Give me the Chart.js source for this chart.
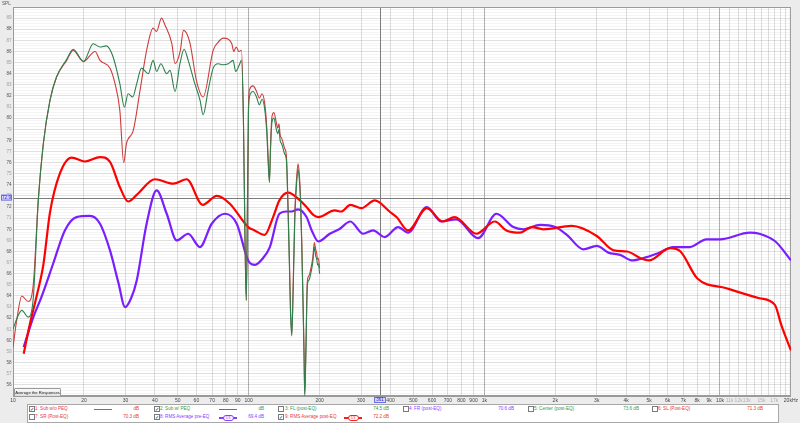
<!DOCTYPE html>
<html><head><meta charset="utf-8">
<script src="https://cdn.jsdelivr.net/npm/chart.js@4"></script>
<style>
html,body{margin:0;padding:0;background:#ececec;width:800px;height:423px;overflow:hidden;font-family:"Liberation Sans",Arial,sans-serif;}
#wrap{position:relative;width:800px;height:423px;}
#c{position:absolute;left:0;top:0;}
.t{position:absolute;font-size:4.6px;line-height:6px;white-space:nowrap;}
.cb{position:absolute;width:4px;height:4px;border:1px solid #7a7a7a;background:#fff;font-size:5px;line-height:4px;text-align:center;color:#111;}
.ln{position:absolute;height:1px;}
.ov{position:absolute;height:4px;border-radius:3px;background:#fff;font-size:3.4px;line-height:4px;text-align:center;}
#panel{position:absolute;left:27px;top:404px;width:750px;height:17px;background:#fff;border:1px solid #a8a8a8;}
#btn{position:absolute;left:14px;top:388px;width:45px;height:7px;border:1px solid #9a9a9a;border-radius:1px;background:linear-gradient(#fbfbfb,#dedede);font-size:4.2px;line-height:7px;text-align:center;color:#222;}
</style>
</head><body>
<div id="wrap">
<canvas id="c" width="800" height="423"></canvas>
<div id="panel"></div>
<div id="btn">Average the Responses</div>
</div>
<script>
// ---------- data ----------
const subNoPeqHz = [10,10.4,10.9,11.6,12.2,12.8,13.45,14.35,15.3,16.9,18.0,19.9,22.3,23.4,25.8,27.1,28.4,29.5,30.3,32.4,34.6,36.9,39.3,40.6,42.7,44.1,47.2,48.7,51.2,52.9,56.3,60.0,64.1,70.7,74.0,78.0,82.0,84.8,86.5,88.5,91.0,93.2,95.0,96.5,97.7,98.8,99.8,101,104.4,108,111,114,117,119.5,121,122.5,124,125.5,128,131,133,134.5,136,138,139.5,142,144.6,147,149,150.5,152.4,154.5,157,160,162,164,166,168,170,171.8,173,174.8,177.5,180,182,185,187,190,192.5,194.6,196,197.6,200];
const subNoPeqDb = [59.4,62.0,64.0,63.5,65.1,72.6,77.7,81.6,83.7,85.2,86.1,85.1,86.0,85.2,84.5,83.1,80.7,76.0,77.7,78.9,82.5,86.1,88.1,87.8,89.0,88.4,86.7,84.9,86.0,87.9,86.8,83.4,81.9,86.1,86.8,87.2,87.1,86.7,86.0,86.4,86.0,86.1,80.0,69.0,63.6,72.0,81.0,82.6,82.9,82.4,81.8,82.2,81.3,79.0,76.5,74.4,78.0,80.1,80.5,79.6,79.1,79.5,78.5,78.2,77.9,77.3,76.6,72.0,67.0,63.0,60.6,65.0,71.5,74.8,75.9,75.0,72.9,69.0,64.0,59.0,55.2,59.0,65.4,65.8,66.1,66.8,67.4,68.8,68.2,67.8,67.3,67.4,66.5];

const subPeqHz = [10,10.4,10.9,11.6,12.2,12.8,13.45,14.35,15.3,16.9,18.0,19.9,21.9,23.4,24.9,26.6,28.4,29.7,30.8,32.2,33.5,35.1,37.5,39.3,40.7,42.4,44.9,46.4,48.7,51.1,53.2,55.4,59.1,62.2,64.1,67.3,70.7,74.2,78.0,82.0,85.9,88.1,91.7,93.2,95.0,96.5,97.7,98.8,99.8,101,104.4,108,111,114,117,119.5,121,122.5,124,125.5,128,131,133,134.5,136,138,139.5,142,144.6,147,149,150.5,152.4,154.5,157,160,162,164,166,168,170,171.8,173,174.8,177.5,180,182,185,187,190,192.5,194.6,196,197.6,200];
const subPeqDb = [61.0,62.0,62.7,62.1,63.9,72.6,77.7,81.6,83.7,85.3,86.2,85.1,86.7,86.4,86.5,85.5,83.1,81.0,82.2,81.9,83.1,84.5,84.0,85.2,84.2,84.9,84.0,84.3,82.4,84.9,86.2,85.2,83.1,81.6,80.3,82.5,84.5,84.9,84.8,84.9,85.2,84.2,84.9,85.2,80.0,69.0,63.6,72.0,80.5,82.0,82.4,81.9,81.2,81.7,80.8,78.5,76.0,74.2,77.5,79.6,80.0,79.0,78.6,79.0,78.0,77.7,77.4,76.8,76.2,71.5,66.5,62.5,60.4,64.5,71.0,74.3,75.4,74.5,72.5,68.5,63.5,58.5,55.0,58.5,65.0,65.4,65.7,66.4,67.0,68.4,67.6,67.3,66.8,66.9,66.0];

const rmsPreHz = [11.1,12.2,13.2,14.8,16.6,18.6,21.2,23.4,25.8,28.0,29.9,31.7,33.5,36.9,40.7,44.9,49.5,55.4,62.1,69.7,79.4,89,99.5,106.5,115,123,135,144.6,152,162,176,186,197.6,221,242,270,306,337,378,431,475,570,657,760,941,1126,1327,1464,1726,2000,2240,2630,3000,3360,3770,4220,4730,5390,6340,7450,8760,10000,13400,14700,17200,20000];
const rmsPreDb = [59.4,62.1,63.9,66.9,69.9,71.1,71.2,70.5,68.1,65.2,63.0,63.8,65.4,70.5,73.5,71.4,69.0,69.6,68.4,70.5,71.4,70.5,67.2,66.8,67.4,68.4,71.4,71.6,71.6,71.8,71.1,69.8,68.9,69.6,70.0,70.7,69.6,69.9,69.3,70.2,69.7,72.0,70.7,70.9,69.2,71.4,70.2,70.0,70.4,70.2,69.5,68.2,68.5,67.9,67.7,67.2,67.4,67.8,68.4,68.4,69.1,69.1,69.7,69.6,68.9,67.2];

const rmsPostHz = [11.1,11.8,12.6,13.45,14.35,15.8,17.75,20.2,23.4,25.8,28.4,30.8,33.5,40,47.9,54.6,63.8,73.3,83.2,99.5,106,117,127,135,147,165,176,188,197.6,232,247,270,301,343,396,424,475,570,667,748,926,1108,1240,1418,1590,1780,2350,3000,3540,4040,4600,4990,6150,6800,8000,10650,14700,17100,18200,20000];
const rmsPostDb = [58.8,61.5,64.0,66.8,71.5,75.0,76.45,76.1,76.5,76.07,73.8,72.5,73.1,74.5,74.1,74.5,72.2,73.0,72.3,70.2,69.9,69.5,71.1,72.6,73.3,72.6,72.0,71.3,71.1,71.7,71.6,72.2,71.9,72.6,71.6,71.1,69.9,71.9,70.7,71.1,69.6,70.7,69.9,69.7,70.2,70.0,70.3,69.4,68.1,68.0,67.4,67.2,68.3,68.0,65.6,64.7,63.8,63.2,61.4,59.1];

const xTickHz = [10,20,30,40,50,60,70,80,90,100,200,300,400,500,600,700,800,900,1000,2000,3000,4000,5000,6000,7000,8000,9000,10000,11000,12000,13000,14000,15000,16000,17000,18000,19000,20000];
const xTickText = ['10','20','30','40','50','60','70','80','90','100','200','300','400','500','600','700','800','900','1k','2k','3k','4k','5k','6k','7k','8k','9k','10k','11k','12k','13k','','15k','','17k','','','20kHz'];
const yMin = 55, yMax = 90;
const cursorHz = 361, cursorDb = 72.85;
const cursorHzText = '361', cursorDbText = '72.9';

// ---------- legend (text from the reference) ----------
const legendNames = ['1: Sub w/o PEQ','2: Sub w/ PEQ','3: FL (post-EQ)','4: FR (post-EQ)','5: Center (post-EQ)','6: SL (Post-EQ)','7: SR (Post-EQ)','8: RMS Average pre-EQ','9: RMS Average post-EQ'];
const legendValues = ['dB','dB','74.5 dB','70.6 dB','73.6 dB','71.3 dB','70.3 dB','69.4 dB','72.2 dB'];
const legendChecked = [true,true,false,false,false,false,false,true,true];
const RED='#e43a3a', GREEN='#2e9a52', PURPLE='#8a3cff';
const legendColors = [RED,GREEN,GREEN,PURPLE,GREEN,RED,RED,PURPLE,RED];

// ---------- legend layout ----------
(function(){
  const wrap=document.getElementById('wrap');
  const colCb=[29,154,278,403,528,652], colTx=[35,160,285,409,534,658], colEnd=[139,264,389,514,639,763];
  const rowY=[409.3,417.3];
  legendNames.forEach((name,i)=>{
    const r = i<6?0:1, c = i<6?i:i-6;
    const y=rowY[r];
    const cb=document.createElement('div'); cb.className='cb';
    cb.style.left=colCb[c]+'px'; cb.style.top=(y-3)+'px';
    cb.textContent=legendChecked[i]?'\u2713':''; wrap.appendChild(cb);
    const t=document.createElement('div'); t.className='t'; t.textContent=name;
    t.style.left=colTx[c]+'px'; t.style.top=(y-3)+'px'; t.style.color=legendColors[i]; wrap.appendChild(t);
    const v=document.createElement('div'); v.className='t'; v.textContent=legendValues[i];
    v.style.right=(800-colEnd[c])+'px'; v.style.top=(y-3)+'px'; v.style.color=legendColors[i]; wrap.appendChild(v);
  });
  function sample(x0,x1,y,color,thick,oval){
    const l=document.createElement('div'); l.className='ln';
    l.style.left=x0+'px'; l.style.width=(x1-x0)+'px'; l.style.top=(y-(thick?1:0.5))+'px';
    l.style.height=(thick?2:1)+'px'; l.style.background=color; wrap.appendChild(l);
    if(oval){
      const o=document.createElement('div'); o.className='ov'; o.textContent='1/3';
      const w=9; o.style.left=((x0+x1)/2-w/2-1)+'px'; o.style.width=w+'px'; o.style.top=(y-3)+'px';
      o.style.border='1px solid '+color; o.style.color=color; wrap.appendChild(o);
    }
  }
  sample(94,112,409.5,'#d84848',false,false);
  sample(219,237,409.5,'#3a8f5c',false,false);
  sample(219,237,417.5,PURPLE,true,true);
  sample(344,362,417.5,'#ff1a1a',true,true);
})();

// ---------- chart ----------
const pts=(f,d)=>f.map((x,i)=>({x:x,y:d[i]}));
const yTickVals=[]; for(let i=0;i<=(yMax-yMin)*4;i++) yTickVals.push(yMin+i*0.25);
const decade=v=>[10,100,1000,10000].includes(v);
const lightX=v=>v>10000&&v<20000;

const framePlugin={
  id:'frame',
  beforeDraw(chart){
    const a=chart.chartArea, ctx=chart.ctx;
    ctx.save(); ctx.fillStyle='#ffffff'; ctx.fillRect(a.left,a.top,a.right-a.left,a.bottom-a.top); ctx.restore();
  },
  beforeDatasetsDraw(chart){
    const a=chart.chartArea, ctx=chart.ctx, xs=chart.scales.x, ys=chart.scales.y;
    const cx=Math.round(xs.getPixelForValue(cursorHz))+0.5, cy=Math.round(ys.getPixelForValue(cursorDb))+0.5;
    ctx.save(); ctx.strokeStyle='#7c7c7c'; ctx.lineWidth=1;
    ctx.beginPath(); ctx.moveTo(cx,a.top); ctx.lineTo(cx,a.bottom); ctx.moveTo(a.left,cy); ctx.lineTo(a.right,cy); ctx.stroke();
    ctx.strokeStyle='#9a9a9a'; ctx.strokeRect(a.left+0.5,a.top+0.5,a.right-a.left-1,a.bottom-a.top-1);
    ctx.restore();
  },
  afterDraw(chart){
    const a=chart.chartArea, ctx=chart.ctx, xs=chart.scales.x, ys=chart.scales.y;
    const cx=xs.getPixelForValue(cursorHz), cy=ys.getPixelForValue(cursorDb);
    ctx.save();
    ctx.font='4.6px "Liberation Sans", Arial, sans-serif'; ctx.textAlign='center'; ctx.textBaseline='middle';
    ctx.fillStyle='#d6d6ff'; ctx.strokeStyle='#6f6fe8'; ctx.lineWidth=1;
    ctx.fillRect(1,cy-3,11,6); ctx.strokeRect(1.5,cy-2.5,10,5);
    ctx.fillStyle='#3030c0'; ctx.fillText(cursorDbText,6.5,cy+0.3);
    ctx.fillStyle='#d6d6ff'; ctx.fillRect(cx-6,a.bottom+1,12,6); ctx.strokeRect(cx-5.5,a.bottom+1.5,11,5);
    ctx.fillStyle='#3030c0'; ctx.fillText(cursorHzText,cx,a.bottom+4.2);
    ctx.fillStyle='#555'; ctx.textAlign='left'; ctx.fillText('SPL',2,3.5);
    ctx.restore();
  }
};

new Chart(document.getElementById('c'),{
  type:'line',
  data:{datasets:[
    {label:'2: Sub w/ PEQ',data:pts(subPeqHz,subPeqDb),borderColor:'rgb(45,128,78)',borderWidth:1.1,order:0},
    {label:'1: Sub w/o PEQ',data:pts(subNoPeqHz,subNoPeqDb),borderColor:'rgb(205,60,60)',borderWidth:1.1,order:1},
    {label:'9: RMS Average post-EQ',data:pts(rmsPostHz,rmsPostDb),borderColor:'rgb(255,0,0)',borderWidth:2.2,order:2},
    {label:'8: RMS Average pre-EQ',data:pts(rmsPreHz,rmsPreDb),borderColor:'rgb(122,30,255)',borderWidth:2.2,order:3}
  ]},
  options:{
    responsive:false, animation:false, devicePixelRatio:1,
    layout:{padding:{left:0,top:7,right:9,bottom:0}},
    elements:{point:{radius:0},line:{cubicInterpolationMode:'monotone',fill:false}},
    plugins:{legend:{display:false},tooltip:{enabled:false}},
    scales:{
      x:{type:'logarithmic',min:10,max:20000,
        afterBuildTicks:s=>{s.ticks=xTickHz.map(v=>({value:v}));},
        afterFit:s=>{s.height=27;},
        grid:{drawTicks:false,color:c=>decade(c.tick&&c.tick.value)?'rgba(0,0,0,0.3)':'rgba(0,0,0,0.13)',lineWidth:1},
        border:{color:'#9a9a9a'},
        ticks:{autoSkip:false,maxRotation:0,minRotation:0,padding:2,
          font:{size:5,family:'"Liberation Sans", Arial, sans-serif'},
          color:c=>lightX(c.tick&&c.tick.value)?'#b0b0b0':'#444',
          callback:(v,i)=>xTickText[i]}
      },
      y:{type:'linear',min:yMin,max:yMax,
        afterBuildTicks:s=>{s.ticks=yTickVals.map(v=>({value:v}));},
        afterFit:s=>{s.width=13;},
        grid:{drawTicks:false,color:c=>Number.isInteger(c.tick&&c.tick.value)?'rgba(0,0,0,0.12)':'rgba(0,0,0,0.045)',lineWidth:1},
        border:{color:'#9a9a9a'},
        ticks:{autoSkip:false,padding:1.5,
          font:{size:4.6,family:'"Liberation Sans", Arial, sans-serif'},
          color:c=>(c.tick&&c.tick.value%2===0)?'#555':'#a0a0a0',
          callback:v=>(Number.isInteger(v)&&v>=56&&v<=89)?String(v):''}
      }
    }
  },
  plugins:[framePlugin]
});
</script>
</body></html>
